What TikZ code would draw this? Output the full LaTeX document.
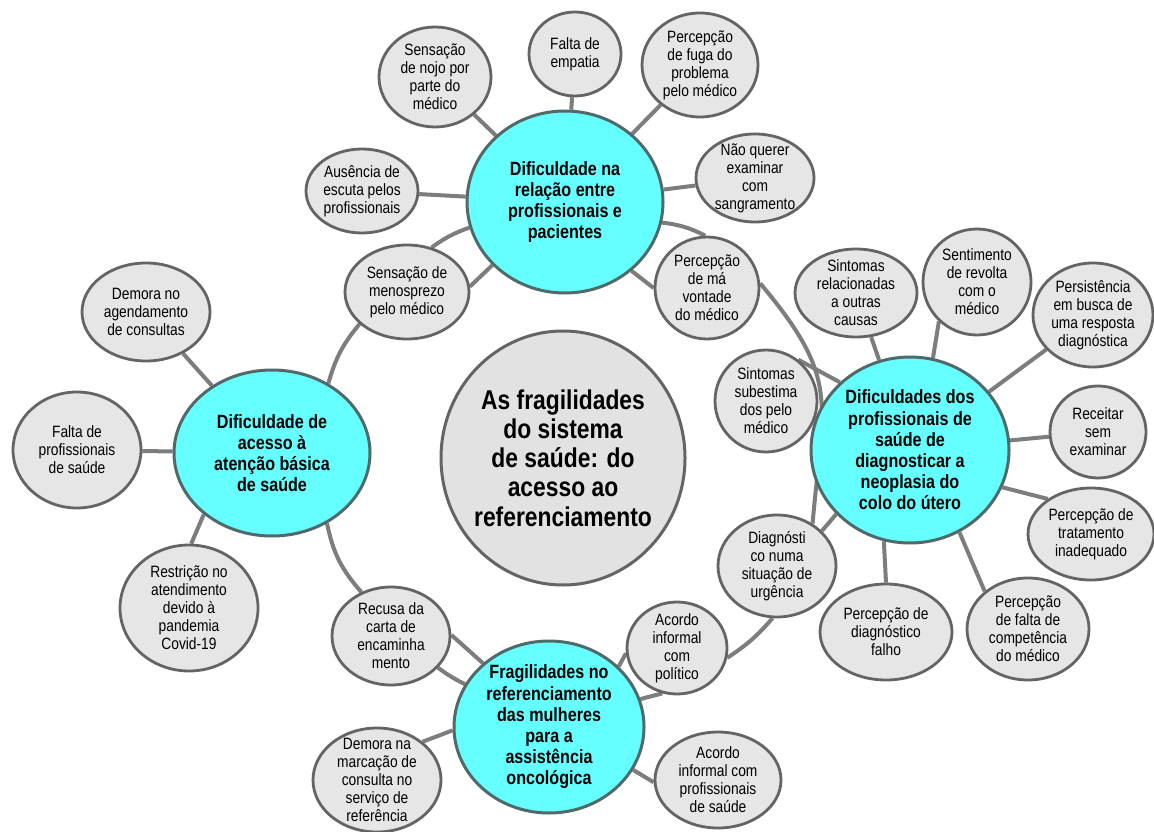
\documentclass[tikz,border=0pt]{standalone}
\usepackage{fontspec}
\setmainfont{Liberation Sans}[FakeStretch=0.84]
\usepackage{tikz}
\usetikzlibrary{shapes.geometric,backgrounds}
\usepackage{xcolor}
\definecolor{hubcyan}{RGB}{102,255,255}
\definecolor{hubedge}{RGB}{80,105,105}
\definecolor{leafgray}{RGB}{230,230,230}
\definecolor{centgray}{RGB}{226,226,226}
\definecolor{leafedge}{RGB}{100,100,100}
\definecolor{linkgray}{RGB}{125,125,125}
\tikzset{
  hub/.style={ellipse, draw=hubedge, fill=hubcyan, line width=1.5pt, align=center,
    inner xsep=0pt, inner ysep=-2pt, font=\bfseries\fontsize{9.6}{10.6}\selectfont},
  leaf/.style={ellipse, draw=leafedge, fill=leafgray, line width=1.4pt, align=center,
    inner xsep=0pt, inner ysep=-3pt, font=\fontsize{8.2}{9}\selectfont},
  theme/.style={ellipse, draw=leafedge, fill=centgray, line width=1.5pt, align=center,
    inner xsep=-2pt, inner ysep=0pt, font=\bfseries\fontsize{13.6}{14.6}\selectfont},
  wh/.style 2 args={minimum width=#1, minimum height=#2},
  link/.style={draw=linkgray, line width=2pt},
}

\begin{document}
\begin{tikzpicture}[x=0.5pt, y=0.5pt]
\useasboundingbox (0,0) rectangle (1154,831);

% tema central
\node[theme, wh={122pt}{127pt}] (tema) at (563,373)
  {As fragilidades\\do sistema\\de saúde: do\\acesso ao\\referenciamento};

% quatro categorias
\node[hub, wh={98pt}{91pt}] (relacao) at (565,629)
  {Dificuldade na\\relação entre\\profissionais e\\pacientes};
\node[hub, wh={98pt}{83pt}] (acesso) at (272,378)
  {Dificuldade de\\acesso à\\atenção básica\\de saúde};
\node[hub, wh={95pt}{86pt}] (referencia) at (549,104)
  {Fragilidades no\\referenciamento\\das mulheres\\para a\\assistência\\oncológica};
\node[hub, wh={99pt}{93pt}] (diagnostico) at (910,381)
  {Dificuldades dos\\profissionais de\\saúde de\\diagnosticar a\\neoplasia do\\colo do útero};

% relação profissionais-pacientes
\node[leaf, wh={56pt}{50pt}] (nojo) at (435,754) {Sensação\\de nojo por\\parte do\\médico};
\node[leaf, wh={46pt}{42pt}] (empatia) at (575,777) {Falta de\\empatia};
\node[leaf, wh={58pt}{52pt}] (fuga) at (700,766) {Percepção\\de fuga do\\problema\\pelo médico};
\node[leaf, wh={59pt}{44pt}] (examinar) at (755,653) {Não querer\\examinar\\com\\sangramento};
\node[leaf, wh={56pt}{42pt}] (escuta) at (362,640) {Ausência de\\escuta pelos\\profissionais};
\node[leaf, wh={62pt}{47pt}] (menosprezo) at (407,539) {Sensação de\\menosprezo\\pelo médico};
\node[leaf, wh={52pt}{51pt}] (vontade) at (707,543) {Percepção\\de má\\vontade\\do médico};

% acesso à atenção básica
\node[leaf, wh={64pt}{49pt}] (agenda) at (146,519) {Demora no\\agendamento\\de consultas};
\node[leaf, wh={64pt}{58pt}] (faltaprof) at (77,381) {Falta de\\profissionais\\de saúde};
\node[leaf, wh={69pt}{63pt}] (covid) at (189,223) {Restrição no\\atendimento\\devido à\\pandemia\\Covid-19};

% referenciamento
\node[leaf, wh={59pt}{49pt}] (carta) at (391,195) {Recusa da\\carta de\\encaminha\\mento};
\node[leaf, wh={64pt}{52pt}] (marcacao) at (377,51) {Demora na\\marcação de\\consulta no\\serviço de\\referência};
\node[leaf, wh={50pt}{46pt}] (politico) at (677,183) {Acordo\\informal\\com\\político};
\node[leaf, wh={63pt}{48pt}] (acordo) at (718,51) {Acordo\\informal com\\profissionais\\de saúde};
\node[leaf, wh={59pt}{51pt}] (urgencia) at (777,265) {Diagnósti\\co numa\\situação de\\urgência};

% diagnóstico da neoplasia
\node[leaf, wh={61pt}{44pt}] (outras) at (856,538) {Sintomas\\relacionadas\\a outras\\causas};
\node[leaf, wh={54pt}{53pt}] (revolta) at (977,549) {Sentimento\\de revolta\\com o\\médico};
\node[leaf, wh={60pt}{52pt}] (busca) at (1093,516) {Persistência\\em busca de\\uma resposta\\diagnóstica};
\node[leaf, wh={51pt}{51pt}] (subest) at (766,430) {Sintomas\\subestima\\dos pelo\\médico};
\node[leaf, wh={48pt}{46pt}] (receita) at (1098,399) {Receitar\\sem\\examinar};
\node[leaf, wh={63pt}{46pt}] (tratamento) at (1091,297) {Percepção de\\tratamento\\inadequado};
\node[leaf, wh={66pt}{48pt}] (falho) at (886,199) {Percepção de\\diagnóstico\\falho};
\node[leaf, wh={61pt}{51pt}] (competencia) at (1028,202) {Percepção\\de falta de\\competência\\do médico};

\begin{scope}[on background layer]
  \fill[white] (0,0) rectangle (1154,831);
  % anel que liga as categorias
  \draw[link] (relacao.195) to[bend right=8] (menosprezo.61);
  \draw[link] (menosprezo.214) to[bend right=12] (acesso.51);
  \draw[link] (acesso.308) to[bend right=15] (carta.124);
  \draw[link] (carta.326) to[bend right=5] (referencia.153);
  \draw[link] (referencia.17) to (politico.252);
  \draw[link] (politico.349) to[bend right=8] (urgencia.265);
  \draw[link] (urgencia.50) to[out=85, in=-50, looseness=1.3] (vontade.5);
  \draw[link] (vontade.92) to[bend right=10] (relacao.348);
  % ligações radiais
  \draw[link] (relacao) -- (nojo);
  \draw[link] (relacao) -- (empatia);
  \draw[link] (relacao) -- (fuga);
  \draw[link] (relacao) -- (examinar);
  \draw[link] (relacao) -- (escuta);
  \draw[link] (relacao.221) -- (menosprezo.5);
  \draw[link] (relacao.314) -- (vontade.180);
  \draw[link] (acesso) -- (agenda);
  \draw[link] (acesso) -- (faltaprof);
  \draw[link] (acesso.222) -- (covid.88);
  \draw[link] (referencia.136) -- (carta.1);
  \draw[link] (referencia.182) -- (marcacao.40);
  \draw[link] (referencia.41) -- (politico.186);
  \draw[link] (referencia.333) -- (acordo.182);
  \draw[link] (diagnostico.221) -- (urgencia.38);
  \draw[link] (diagnostico) -- (outras);
  \draw[link] (diagnostico.76) -- (revolta.226);
  \draw[link] (diagnostico) -- (busca);
  \draw[link] (diagnostico.136) -- (subest.52);
  \draw[link] (diagnostico) -- (receita);
  \draw[link] (diagnostico.338) -- (tratamento.141);
  \draw[link] (diagnostico.254) -- (falho.90);
  \draw[link] (diagnostico.301) -- (competencia.139);
\end{scope}
\end{tikzpicture}
\end{document}
